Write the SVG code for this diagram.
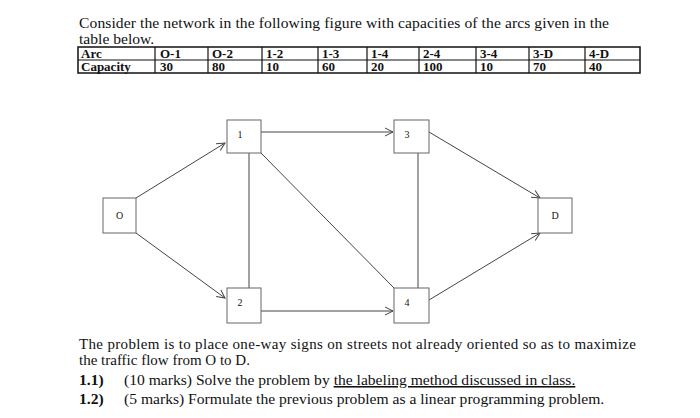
<svg xmlns="http://www.w3.org/2000/svg" width="700" height="418" viewBox="0 0 700 418">
<style>
text{font-family:"Liberation Serif",serif;fill:#111}
.t{font-size:15.6px}
.s{font-size:15px}
.b{font-size:13px;font-weight:bold}
.n rect{fill:#fff;stroke:#666;stroke-width:1}
.n text{font-size:10px;text-anchor:middle}
.e{stroke:#444;stroke-width:1;fill:none}
</style>
<defs><marker id="a" markerWidth="10" markerHeight="10" refX="9" refY="5" orient="auto" markerUnits="userSpaceOnUse"><path d="M1,1 L9,5 L1,9" fill="none" stroke="#444" stroke-width="1"/></marker></defs>
<rect width="700" height="418" fill="#fff"/>
<text class="t" x="79" y="28" textLength="530">Consider the network in the following figure with capacities of the arcs given in the</text>
<text class="t" x="79" y="44">table below.</text>
<g id="table">
<rect x="78" y="47" width="562" height="26" fill="none" stroke="#111" stroke-width="1.5"/>
<line x1="78" y1="60" x2="640" y2="60" stroke="#111"/>
<g stroke="#111" stroke-width="1.2"><line x1="155" y1="47" x2="155" y2="73"/><line x1="208" y1="47" x2="208" y2="73"/><line x1="262" y1="47" x2="262" y2="73"/><line x1="318" y1="47" x2="318" y2="73"/><line x1="367" y1="47" x2="367" y2="73"/><line x1="419" y1="47" x2="419" y2="73"/><line x1="476" y1="47" x2="476" y2="73"/><line x1="529" y1="47" x2="529" y2="73"/><line x1="585" y1="47" x2="585" y2="73"/></g>
<g class="b"><text x="81" y="57.5">Arc</text><text x="160" y="57.5">O-1</text><text x="212" y="57.5">O-2</text><text x="266" y="57.5">1-2</text><text x="322" y="57.5">1-3</text><text x="371" y="57.5">1-4</text><text x="423" y="57.5">2-4</text><text x="480" y="57.5">3-4</text><text x="533" y="57.5">3-D</text><text x="589" y="57.5">4-D</text>
<text x="81" y="71">Capacity</text><text x="160" y="71">30</text><text x="212" y="71">80</text><text x="266" y="71">10</text><text x="322" y="71">60</text><text x="371" y="71">20</text><text x="423" y="71">100</text><text x="480" y="71">10</text><text x="533" y="71">70</text><text x="589" y="71">40</text></g>
</g>
<g id="connectors">
<line class="e" x1="136" y1="198" x2="225" y2="143" marker-end="url(#a)"/>
<line class="e" x1="136" y1="233" x2="225" y2="298" marker-end="url(#a)"/>
<line class="e" x1="261" y1="132" x2="393" y2="132" marker-end="url(#a)"/>
<line class="e" x1="261" y1="311" x2="393" y2="311" marker-end="url(#a)"/>
<line class="e" x1="249" y1="153" x2="249" y2="288" stroke="#888"/>
<line class="e" x1="418" y1="153" x2="418" y2="288"/>
<line class="e" x1="261" y1="153" x2="394" y2="288"/>
<line class="e" x1="429" y1="132" x2="540" y2="198" marker-end="url(#a)"/>
<line class="e" x1="429" y1="300" x2="540" y2="233" marker-end="url(#a)"/>
</g>
<g id="nO" class="n"><rect x="103" y="198" width="33" height="35"/><text x="119.5" y="219">O</text></g>
<g id="n1" class="n"><rect x="227" y="120" width="34" height="33"/><text x="240" y="138">1</text></g>
<g id="n3" class="n"><rect x="394" y="120" width="35" height="33"/><text x="407" y="138">3</text></g>
<g id="n2" class="n"><rect x="227" y="288" width="34" height="35"/><text x="240" y="306">2</text></g>
<g id="n4" class="n"><rect x="394" y="288" width="35" height="35"/><text x="407" y="306">4</text></g>
<g id="nD" class="n"><rect x="538" y="198" width="34" height="35"/><text x="555" y="219">D</text></g>
<text class="s" x="79" y="349" textLength="557">The problem is to place one-way signs on streets not already oriented so as to maximize</text>
<text class="s" x="79" y="365">the traffic flow from O to D.</text>
<text class="t" x="79" y="385" font-weight="bold">1.1)</text>
<text class="t" x="124" y="385">(10 marks) Solve the problem by <tspan text-decoration="underline">the labeling method discussed in class.</tspan></text>
<text class="t" x="79" y="404" font-weight="bold">1.2)</text>
<text class="t" x="124" y="404">(5 marks) Formulate the previous problem as a linear programming problem.</text>
</svg>
